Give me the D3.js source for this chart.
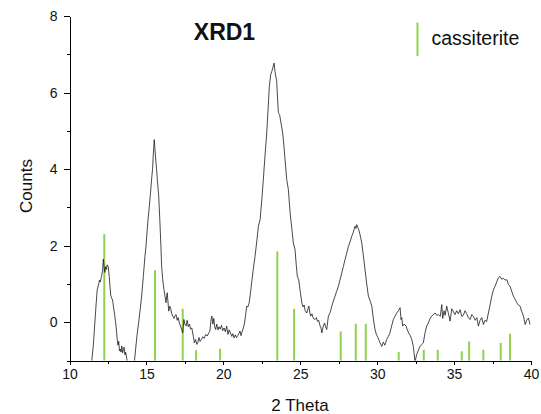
<!DOCTYPE HTML>
<html>

<head>
  <title>XRD1</title>
  <meta charset="UTF-8">
</head>
<script src="https://d3js.org/d3.v7.min.js"></script>

<style>
body {
  margin: 0;
  background: #fff;
}

svg text {
  font-family: "Liberation Sans", Arial, sans-serif;
  fill: #111;
}

.axis path, .axis line {
  stroke: #000;
  stroke-width: 1;
  shape-rendering: crispEdges;
}

.axis text {
  font-size: 14px;
}

.pattern {
  fill: none;
  stroke: #1a1a1a;
  stroke-width: 0.8;
}

.stick {
  stroke: #8fd14f;
  stroke-width: 2;
}
</style>

<body>
  <svg width="541" height="414"></svg>
  <script>
    // measured pattern (2 theta, counts)
    var theta = [11.40, 11.55, 11.70, 11.80, 11.90, 11.95, 12.00, 12.08, 12.15, 12.20, 12.25, 12.30, 12.35, 12.40, 12.45, 12.52, 12.58, 12.62, 12.68, 12.75, 12.80, 12.86, 12.92, 12.98, 13.04, 13.10, 13.15, 13.20, 13.25, 13.30, 13.35, 13.40, 13.45, 13.50, 13.55, 13.60, 13.65, 13.72, 13.80, 14.20, 14.30, 14.40, 14.50, 14.60, 14.69, 14.80, 14.90, 14.97, 15.05, 15.12, 15.19, 15.27, 15.34, 15.40, 15.45, 15.51, 15.56, 15.62, 15.66, 15.71, 15.80, 15.88, 15.94, 15.99, 16.05, 16.14, 16.20, 16.27, 16.35, 16.40, 16.45, 16.52, 16.58, 16.65, 16.71, 16.80, 16.87, 16.93, 17.00, 17.07, 17.14, 17.22, 17.30, 17.36, 17.44, 17.50, 17.58, 17.65, 17.72, 17.80, 17.87, 17.95, 18.05, 18.12, 18.20, 18.28, 18.35, 18.42, 18.49, 18.58, 18.66, 18.75, 18.85, 18.95, 19.05, 19.13, 19.20, 19.26, 19.32, 19.38, 19.44, 19.50, 19.57, 19.65, 19.72, 19.80, 19.88, 19.96, 20.05, 20.13, 20.22, 20.30, 20.38, 20.46, 20.55, 20.62, 20.70, 20.78, 20.86, 20.94, 21.01, 21.08, 21.15, 21.22, 21.30, 21.38, 21.45, 21.52, 21.60, 21.68, 21.76, 21.84, 21.95, 22.06, 22.17, 22.28, 22.39, 22.50, 22.60, 22.70, 22.82, 22.90, 22.99, 23.08, 23.15, 23.21, 23.30, 23.36, 23.42, 23.47, 23.53, 23.58, 23.66, 23.75, 23.86, 23.94, 24.01, 24.12, 24.23, 24.34, 24.45, 24.55, 24.66, 24.74, 24.81, 24.90, 25.00, 25.10, 25.18, 25.25, 25.32, 25.42, 25.50, 25.56, 25.62, 25.68, 25.76, 25.85, 25.96, 26.05, 26.12, 26.20, 26.29, 26.35, 26.40, 26.50, 26.58, 26.65, 26.72, 26.83, 26.94, 27.05, 27.15, 27.26, 27.36, 27.48, 27.58, 27.70, 27.80, 27.91, 28.02, 28.13, 28.24, 28.35, 28.45, 28.56, 28.62, 28.67, 28.74, 28.80, 28.88, 29.00, 29.10, 29.21, 29.32, 29.43, 29.55, 29.65, 29.75, 29.86, 29.95, 30.05, 30.19, 30.30, 30.40, 30.50, 30.62, 30.72, 30.83, 30.94, 31.05, 31.15, 31.27, 31.38, 31.49, 31.55, 31.60, 31.66, 31.75, 31.88, 31.96, 32.05, 32.15, 32.25, 32.35, 32.40, 32.46, 32.56, 32.66, 32.79, 32.90, 33.00, 33.11, 33.22, 33.33, 33.44, 33.55, 33.66, 33.77, 33.88, 33.98, 34.10, 34.20, 34.26, 34.35, 34.42, 34.52, 34.62, 34.74, 34.85, 34.95, 35.06, 35.17, 35.28, 35.39, 35.50, 35.60, 35.71, 35.82, 35.93, 36.04, 36.15, 36.26, 36.37, 36.48, 36.58, 36.69, 36.80, 36.91, 37.01, 37.12, 37.23, 37.34, 37.45, 37.56, 37.66, 37.77, 37.88, 37.98, 38.10, 38.20, 38.32, 38.43, 38.54, 38.64, 38.75, 38.86, 38.97, 39.07, 39.18, 39.29, 39.40, 39.51, 39.62, 39.72, 39.83, 39.94]
    var counts = [-1.2, -0.6, 0.3, 0.85, 1.0, 1.1, 1.05, 1.2, 1.35, 1.65, 1.45, 1.30, 1.45, 1.38, 1.50, 1.45, 1.20, 1.0, 0.70, 0.62, 0.58, 0.40, 0.24, 0.05, -0.15, -0.45, -0.60, -0.50, -0.75, -0.70, -0.78, -0.62, -0.80, -0.72, -0.65, -0.85, -0.78, -0.95, -1.1, -1.1, -0.7, -0.3, 0.0, 0.35, 0.68, 1.2, 1.7, 1.98, 2.4, 2.75, 3.03, 3.4, 3.75, 4.0, 4.4, 4.77, 4.5, 4.17, 4.0, 3.73, 3.29, 2.59, 2.0, 1.46, 1.15, 0.85, 0.70, 0.51, 0.77, 0.55, 0.29, 0.42, 0.35, 0.22, 0.16, 0.10, 0.18, 0.20, 0.05, 0.12, -0.02, -0.10, -0.20, -0.28, 0.07, -0.05, -0.10, 0.05, -0.12, -0.05, -0.18, -0.15, -0.37, -0.54, -0.45, -0.58, -0.52, -0.40, -0.50, -0.45, -0.38, -0.42, -0.32, -0.36, -0.28, -0.23, 0.07, 0.16, -0.05, 0.10, -0.12, -0.19, -0.05, -0.20, -0.12, -0.18, -0.08, -0.22, -0.15, -0.25, -0.10, -0.32, -0.20, -0.28, -0.37, -0.30, -0.41, -0.33, -0.40, -0.35, -0.30, -0.23, -0.35, -0.25, -0.15, -0.02, 0.20, 0.42, 0.40, 0.51, 0.75, 1.03, 1.40, 1.72, 2.10, 2.51, 2.68, 3.2, 3.73, 4.30, 4.94, 5.50, 6.16, 6.47, 6.55, 6.64, 6.77, 6.55, 6.40, 6.29, 5.80, 5.47, 5.42, 5.20, 4.94, 4.60, 4.25, 3.73, 3.46, 2.86, 2.45, 2.07, 1.90, 1.50, 1.20, 1.11, 0.80, 0.51, 0.40, 0.45, 0.30, 0.24, 0.35, 0.42, 0.25, 0.16, 0.22, 0.10, 0.07, 0.12, 0.02, 0.05, -0.10, -0.15, -0.28, -0.10, -0.02, -0.12, -0.19, 0.16, 0.25, 0.42, 0.55, 0.68, 0.80, 0.94, 1.10, 1.29, 1.45, 1.64, 1.80, 1.98, 2.10, 2.25, 2.35, 2.51, 2.45, 2.55, 2.48, 2.42, 2.30, 2.07, 1.75, 1.38, 1.00, 0.68, 0.55, 0.42, 0.10, -0.19, -0.32, -0.40, -0.54, -0.63, -0.52, -0.60, -0.45, -0.38, -0.28, -0.10, 0.07, 0.15, 0.24, 0.30, 0.38, 0.07, 0.12, -0.10, -0.05, -0.10, -0.20, -0.28, -0.35, -0.45, -0.63, -0.80, -1.05, -0.85, -0.75, -0.63, -0.58, -0.54, -0.28, -0.10, -0.02, 0.10, 0.16, 0.20, 0.24, 0.18, 0.20, 0.15, 0.46, 0.10, 0.30, 0.18, 0.42, 0.25, 0.03, 0.35, 0.28, 0.20, 0.30, 0.22, 0.33, 0.15, 0.18, 0.30, 0.22, 0.12, 0.07, 0.20, 0.15, 0.05, 0.12, -0.10, 0.05, 0.12, -0.06, 0.05, 0.02, 0.24, 0.45, 0.68, 0.85, 0.94, 1.05, 1.16, 1.20, 1.12, 1.15, 1.10, 1.11, 0.98, 0.94, 0.80, 0.68, 0.60, 0.51, 0.45, 0.42, 0.28, 0.16, -0.06, 0.05, 0.11, -0.06]

    // cassiterite reference lines
    var refTheta = [12.26, 15.56, 17.36, 18.23, 19.79, 23.51, 24.60, 27.63, 28.61, 29.26, 31.40, 33.03, 33.94, 35.50, 35.98, 36.90, 38.03, 38.64]
    var refCounts = [2.30, 1.36, 0.35, -0.73, -0.69, 1.85, 0.35, -0.24, -0.04, -0.04, -0.78, -0.72, -0.72, -0.76, -0.50, -0.72, -0.54, -0.30]

    var xTicks = [10, 15, 20, 25, 30, 35, 40]
    var yTicks = [0, 2, 4, 6, 8]

    var svg = d3.select("svg")

    var x = d3.scaleLinear().domain([10, 40]).range([69.5, 531])
    var y = d3.scaleLinear().domain([-1, 8]).range([360.5, 16])

    svg.append("defs").append("clipPath")
      .attr("id", "plot-clip")
      .append("rect")
      .attr("x", x(10))
      .attr("y", y(8))
      .attr("width", x(40) - x(10))
      .attr("height", y(-1) - y(8))

    // minor ticks first, under the major ones
    svg.append("g")
      .attr("class", "axis")
      .attr("transform", "translate(0," + y(-1) + ")")
      .call(d3.axisBottom(x).tickValues(d3.range(12.5, 40, 5)).tickSize(3).tickFormat(""))
      .select(".domain").remove()

    svg.append("g")
      .attr("class", "axis")
      .attr("transform", "translate(" + x(10) + ",0)")
      .call(d3.axisLeft(y).tickValues([-1, 1, 3, 5, 7]).tickSize(3).tickFormat(""))
      .select(".domain").remove()

    svg.append("g")
      .attr("class", "axis axis--x")
      .attr("transform", "translate(0," + y(-1) + ")")
      .call(d3.axisBottom(x).tickValues(xTicks).tickSizeInner(4).tickSizeOuter(0).tickPadding(5))

    svg.append("g")
      .attr("class", "axis axis--y")
      .attr("transform", "translate(" + x(10) + ",0)")
      .call(d3.axisLeft(y).tickValues(yTicks).tickSizeInner(6).tickSizeOuter(0).tickPadding(6))

    svg.selectAll(".stick")
      .data(refTheta)
      .enter().append("line")
      .attr("class", "stick")
      .attr("x1", function(d) { return x(d) })
      .attr("x2", function(d) { return x(d) })
      .attr("y1", y(-1))
      .attr("y2", function(d, i) { return y(refCounts[i]) })

    var line = d3.line()
      .x(function(d) { return x(d) })
      .y(function(d, i) { return y(counts[i]) })

    svg.append("path")
      .attr("class", "pattern")
      .attr("clip-path", "url(#plot-clip)")
      .attr("d", line(theta))

    svg.append("text")
      .attr("x", 224.5)
      .attr("y", 39.5)
      .attr("text-anchor", "middle")
      .style("font-size", "23px")
      .style("font-weight", "bold")
      .text("XRD1")

    // legend
    svg.append("line")
      .attr("class", "stick")
      .attr("x1", 417.5).attr("x2", 417.5)
      .attr("y1", 22.5).attr("y2", 56)

    svg.append("text")
      .attr("x", 431.5)
      .attr("y", 45)
      .style("font-size", "19.5px")
      .text("cassiterite")

    svg.append("text")
      .attr("x", 300)
      .attr("y", 411)
      .attr("text-anchor", "middle")
      .style("font-size", "17px")
      .text("2 Theta")

    svg.append("text")
      .attr("transform", "translate(31.5,186) rotate(-90)")
      .attr("text-anchor", "middle")
      .style("font-size", "17px")
      .text("Counts")
  </script>
</body>

</html>
